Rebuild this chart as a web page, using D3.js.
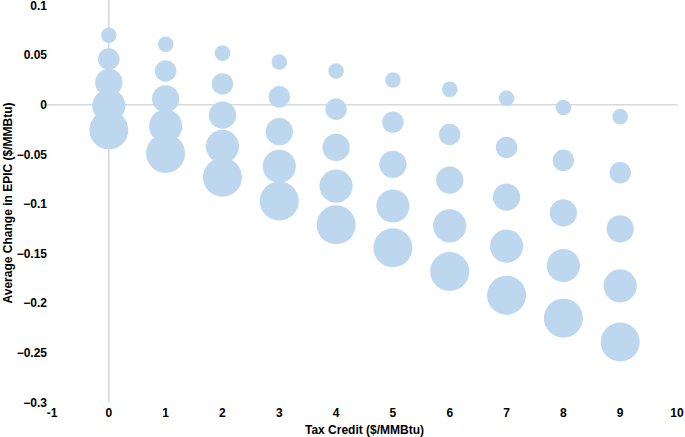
<!DOCTYPE html>
<html lang="en">
<head>
  <meta charset="UTF-8">
  <title>Average Change in EPIC vs Tax Credit</title>
  <script src="https://d3js.org/d3.v7.min.js"></script>
  <style>
    body {
      margin: 0;
      padding: 0;
      background: #fff;
      font-family: "Liberation Sans", Arial, Helvetica, sans-serif;
    }
    svg { display: block; }
    .tick-label { font-size: 12px; font-weight: bold; fill: #000; }
    .axis-title { font-size: 12px; font-weight: bold; fill: #000; }
  </style>
</head>
<body>
  <svg width="685" height="437"></svg>
  <script>
    const width = 685, height = 437;
    const svg = d3.select("svg");

    // tax credit ($/MMBtu)
    const taxCredit = [0, 1, 2, 3, 4, 5, 6, 7, 8, 9];

    // average change in EPIC ($/MMBtu), one array per bubble size
    const sizeLevels = [1, 2, 3, 4, 5];
    const series1 = [0.070, 0.061, 0.052, 0.043, 0.034, 0.025, 0.0155, 0.0065, -0.0027, -0.012];
    const series2 = [0.046, 0.034, 0.021, 0.008, -0.0045, -0.0175, -0.030, -0.043, -0.056, -0.0685];
    const series3 = [0.0225, 0.006, -0.0105, -0.027, -0.043, -0.060, -0.076, -0.093, -0.109, -0.125];
    const series4 = [-0.001, -0.0215, -0.042, -0.062, -0.082, -0.102, -0.122, -0.1425, -0.162, -0.1825];
    const series5 = [-0.0255, -0.049, -0.073, -0.097, -0.121, -0.144, -0.168, -0.192, -0.215, -0.239];
    const allSeries = [series1, series2, series3, series4, series5];

    const xTicks = [-1, 0, 1, 2, 3, 4, 5, 6, 7, 8, 9, 10];
    const yTicks = [0.1, 0.05, 0, -0.05, -0.1, -0.15, -0.2, -0.25, -0.3];

    const x = d3.scaleLinear().domain([-1, 10]).range([52, 677]);
    const y = d3.scaleLinear().domain([-0.3, 0.1]).range([402.5, 5.5]);
    const r = d3.scaleLinear().domain([1, 5]).range([7.8, 19.5]);

    // zero lines
    svg.append("line")
      .attr("x1", x(-1) - 8).attr("x2", x(10) + 1)
      .attr("y1", y(0)).attr("y2", y(0))
      .attr("stroke", "#d9d9d9").attr("stroke-width", 1.5);
    svg.append("line")
      .attr("x1", x(0)).attr("x2", x(0))
      .attr("y1", y(0.1) - 6).attr("y2", y(-0.3))
      .attr("stroke", "#d9d9d9").attr("stroke-width", 1.5);

    // bubbles
    const points = [];
    allSeries.forEach((s, i) => {
      s.forEach((v, j) => points.push({ x: taxCredit[j], y: v, size: sizeLevels[i] }));
    });
    svg.append("g").selectAll("circle")
      .data(points)
      .join("circle")
      .attr("cx", d => x(d.x))
      .attr("cy", d => y(d.y))
      .attr("r", d => r(d.size))
      .attr("fill", "#bdd7ee");

    // y tick labels
    svg.append("g").selectAll("text")
      .data(yTicks)
      .join("text")
      .attr("class", "tick-label")
      .attr("x", 47)
      .attr("y", d => y(d))
      .attr("dy", "0.35em")
      .attr("text-anchor", "end")
      .text(d => d3.format("")(d));

    // x tick labels
    svg.append("g").selectAll("text")
      .data(xTicks)
      .join("text")
      .attr("class", "tick-label")
      .attr("x", d => x(d))
      .attr("y", 417)
      .attr("text-anchor", "middle")
      .text(d => d);

    svg.append("text")
      .attr("class", "axis-title")
      .attr("x", (x(-1) + x(10)) / 2)
      .attr("y", 434)
      .attr("text-anchor", "middle")
      .text("Tax Credit ($/MMBtu)");

    svg.append("text")
      .attr("class", "axis-title")
      .attr("transform", "translate(12,203) rotate(-90)")
      .attr("text-anchor", "middle")
      .text("Average Change in EPIC ($/MMBtu)");
  </script>
</body>
</html>
